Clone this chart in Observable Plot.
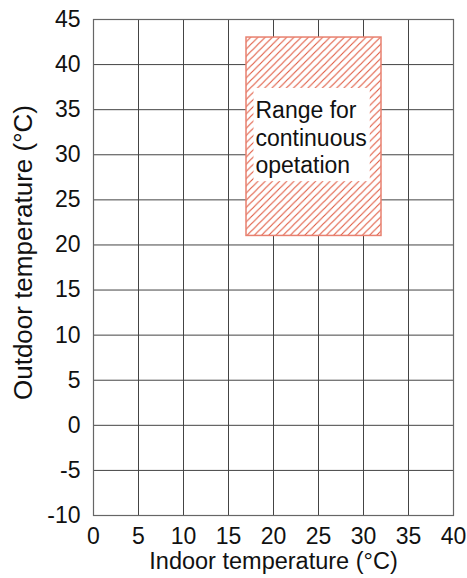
<!DOCTYPE html>
<html>
<head>
<meta charset="utf-8">
<script src="https://cdn.jsdelivr.net/npm/d3@7"></script>
<script src="https://cdn.jsdelivr.net/npm/@observablehq/plot@0.6"></script>
<style>
  html, body { margin: 0; padding: 0; background: #fff; }
  svg { font-family: "Liberation Sans", Arial, sans-serif; }
</style>
</head>
<body>
<div id="chart"></div>
<script>
// ---- data ----
const xTicks = [0, 5, 10, 15, 20, 25, 30, 35, 40];
const yTicks = [-10, -5, 0, 5, 10, 15, 20, 25, 30, 35, 40, 45];
const xLabel = "Indoor temperature (°C)";
const yLabel = "Outdoor temperature (°C)";
const zoneIndoor = [17, 32];   // indoor range for continuous operation
const zoneOutdoor = [21, 43];  // outdoor range for continuous operation
const zoneText = "Range for\ncontinuous\nopetation";

const zone = [{x1: zoneIndoor[0], x2: zoneIndoor[1], y1: zoneOutdoor[0], y2: zoneOutdoor[1]}];
const labelPos = [{x: zoneIndoor[0] + 1, y: (zoneOutdoor[0] + zoneOutdoor[1]) / 2, t: zoneText}];

const gridColor = "#444";
const fmt = d => `${d}`;
const chart = Plot.plot({
  width: 467,
  height: 578,
  marginLeft: 93,
  marginRight: 14,
  marginTop: 19,
  marginBottom: 63,
  x: {domain: [0, 40]},
  y: {domain: [-10, 45]},
  style: {fontFamily: '"Liberation Sans", Arial, sans-serif', fontSize: "23px", color: "#111", background: "#fff"},
  marks: [
    Plot.gridX(xTicks, {stroke: gridColor, strokeOpacity: 1, strokeWidth: 1}),
    Plot.gridY(yTicks, {stroke: gridColor, strokeOpacity: 1, strokeWidth: 1}),
    Plot.frame({stroke: "#666", strokeWidth: 1.2}),
    Plot.rect(zone, {x1: "x1", x2: "x2", y1: "y1", y2: "y2", fill: "url(#hatch)", stroke: "#e8806f", strokeWidth: 1.5, className: "zone"}),
    Plot.text(labelPos, {x: "x", y: "y", text: "t", textAnchor: "start", fontSize: 23, lineHeight: 1.2, fill: "#111", className: "zonelabel"}),
    Plot.axisX(xTicks, {tickSize: 0, tickPadding: 12, fontSize: 23, tickFormat: fmt, label: null, className: "xax"}),
    Plot.axisY(yTicks, {tickSize: 0, tickPadding: 13, fontSize: 23, tickFormat: fmt, label: null, className: "yax"}),
    Plot.text([xLabel], {frameAnchor: "bottom", textAnchor: "middle", lineAnchor: "top", dy: 37, fontSize: 23.5, fill: "#111", className: "xlab"}),
    Plot.text([yLabel], {frameAnchor: "left", textAnchor: "middle", rotate: -90, dx: -70, dy: -15, fontSize: 26, fill: "#111", className: "ylab"})
  ]
});

document.getElementById("chart").appendChild(chart);

// make sure tick label size is applied
d3.select(chart).selectAll("g.xax text, g.yax text").attr("font-size", 23).style("font-size", "23px");

// hatch pattern definition
const svg = d3.select(chart);
const defs = svg.insert("defs", ":first-child");
const pat = defs.append("pattern")
  .attr("id", "hatch")
  .attr("patternUnits", "userSpaceOnUse")
  .attr("width", 7.2).attr("height", 7.2);
pat.append("rect").attr("width", 7.2).attr("height", 7.2).attr("fill", "#fff");
pat.append("path")
  .attr("d", "M-1,1 l2,-2 M0,7.2 l7.2,-7.2 M6.2,8.2 l2,-2")
  .attr("stroke", "#e0573d")
  .attr("stroke-width", 1.1);

// white box behind the label
const lbl = chart.querySelector("g.zonelabel text");
if (lbl) {
  const bb = lbl.getBBox();
  d3.select(lbl.parentNode).insert("rect", ":first-child")
    .attr("transform", lbl.getAttribute("transform"))
    .attr("x", bb.x - 2).attr("y", bb.y - 9)
    .attr("width", bb.width + 5).attr("height", bb.height + 12)
    .attr("fill", "#fff");
}
</script>
</body>
</html>
